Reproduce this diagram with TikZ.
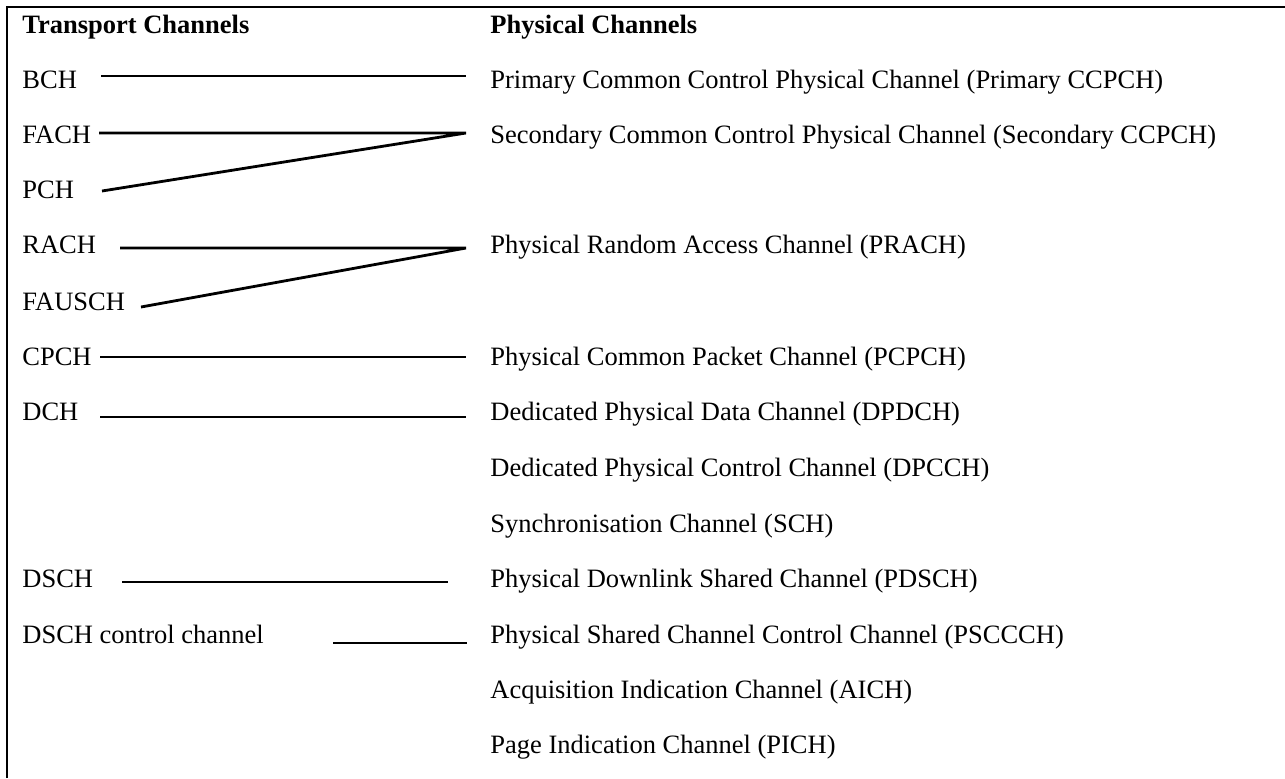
\documentclass[tikz,border=0pt]{standalone}
\usepackage{fontspec}
\setmainfont{Liberation Serif}
\begin{document}
\begin{tikzpicture}[x=0.5pt,y=-0.5pt,
    chan/.style={anchor=base west,inner sep=0pt,font=\fontsize{13.25}{15}\selectfont},
    headline/.style={chan,font=\fontsize{13.25}{15}\selectfont\bfseries},
    link/.style={line width=1.4pt},
    thinlink/.style={line width=0.9pt}]
    \useasboundingbox (0,0) rectangle (1285,778);
    \draw [line width=1.3pt] (7,778) -- (7,7) -- (1285,7);

    \node [headline] (transport) at (22,33)  {Transport Channels};
    \node [headline] (physical)  at (490,33) {Physical Channels};

    % transport channels
    \foreach \y/\name/\txt in {88/bch/BCH,143/fach/FACH,198/pch/PCH,253/rach/RACH,
        310/fausch/FAUSCH,365/cpch/CPCH,420/dch/DCH,587/dsch/DSCH,
        643/dschctrl/{DSCH control channel}}{%
        \node [chan] (\name) at (22,\y) {\txt};}

    % physical channels
    \foreach \y/\name/\txt in {88/pccpch/{Primary Common Control Physical Channel (Primary CCPCH)},
        143/sccpch/{Secondary Common Control Physical Channel (Secondary CCPCH)},
        253/prach/{Physical Random Access Channel (PRACH)},
        365/pcpch/{Physical Common Packet Channel (PCPCH)},
        420/dpdch/{Dedicated Physical Data Channel (DPDCH)},
        476/dpcch/{Dedicated Physical Control Channel (DPCCH)},
        532/sch/{Synchronisation Channel (SCH)},
        587/pdsch/{Physical Downlink Shared Channel (PDSCH)},
        643/psccch/{Physical Shared Channel Control Channel (PSCCCH)},
        698/aich/{Acquisition Indication Channel (AICH)},
        753/pich/{Page Indication Channel (PICH)}}{%
        \node [chan] (\name) at (490,\y) {\txt};}

    % line ends
    \coordinate (bch-out)      at (101,76);
    \coordinate (pccpch-in)    at (466,76);
    \coordinate (fach-out)     at (99,133);
    \coordinate (pch-out)      at (102,191);
    \coordinate (sccpch-in)    at (466,133);
    \coordinate (rach-out)     at (120,248);
    \coordinate (fausch-out)   at (141,307);
    \coordinate (prach-in)     at (466,248);
    \coordinate (cpch-out)     at (100,357);
    \coordinate (pcpch-in)     at (466,357);
    \coordinate (dch-out)      at (100,417);
    \coordinate (dpdch-in)     at (466,417);
    \coordinate (dsch-out)     at (122,582);
    \coordinate (pdsch-in)     at (448,582);
    \coordinate (dschctrl-out) at (333,643);
    \coordinate (psccch-in)    at (467,643);

    \draw [link] (bch-out) -- (pccpch-in);
    \draw [link] (fach-out) -- (sccpch-in) -- (pch-out);
    \draw [link] (rach-out) -- (prach-in) -- (fausch-out);
    \draw [link] (cpch-out) -- (pcpch-in);
    \draw [link] (dch-out) -- (dpdch-in);
    \draw [thinlink] (dsch-out) -- (pdsch-in);
    \draw [thinlink] (dschctrl-out) -- (psccch-in);
\end{tikzpicture}
\end{document}
